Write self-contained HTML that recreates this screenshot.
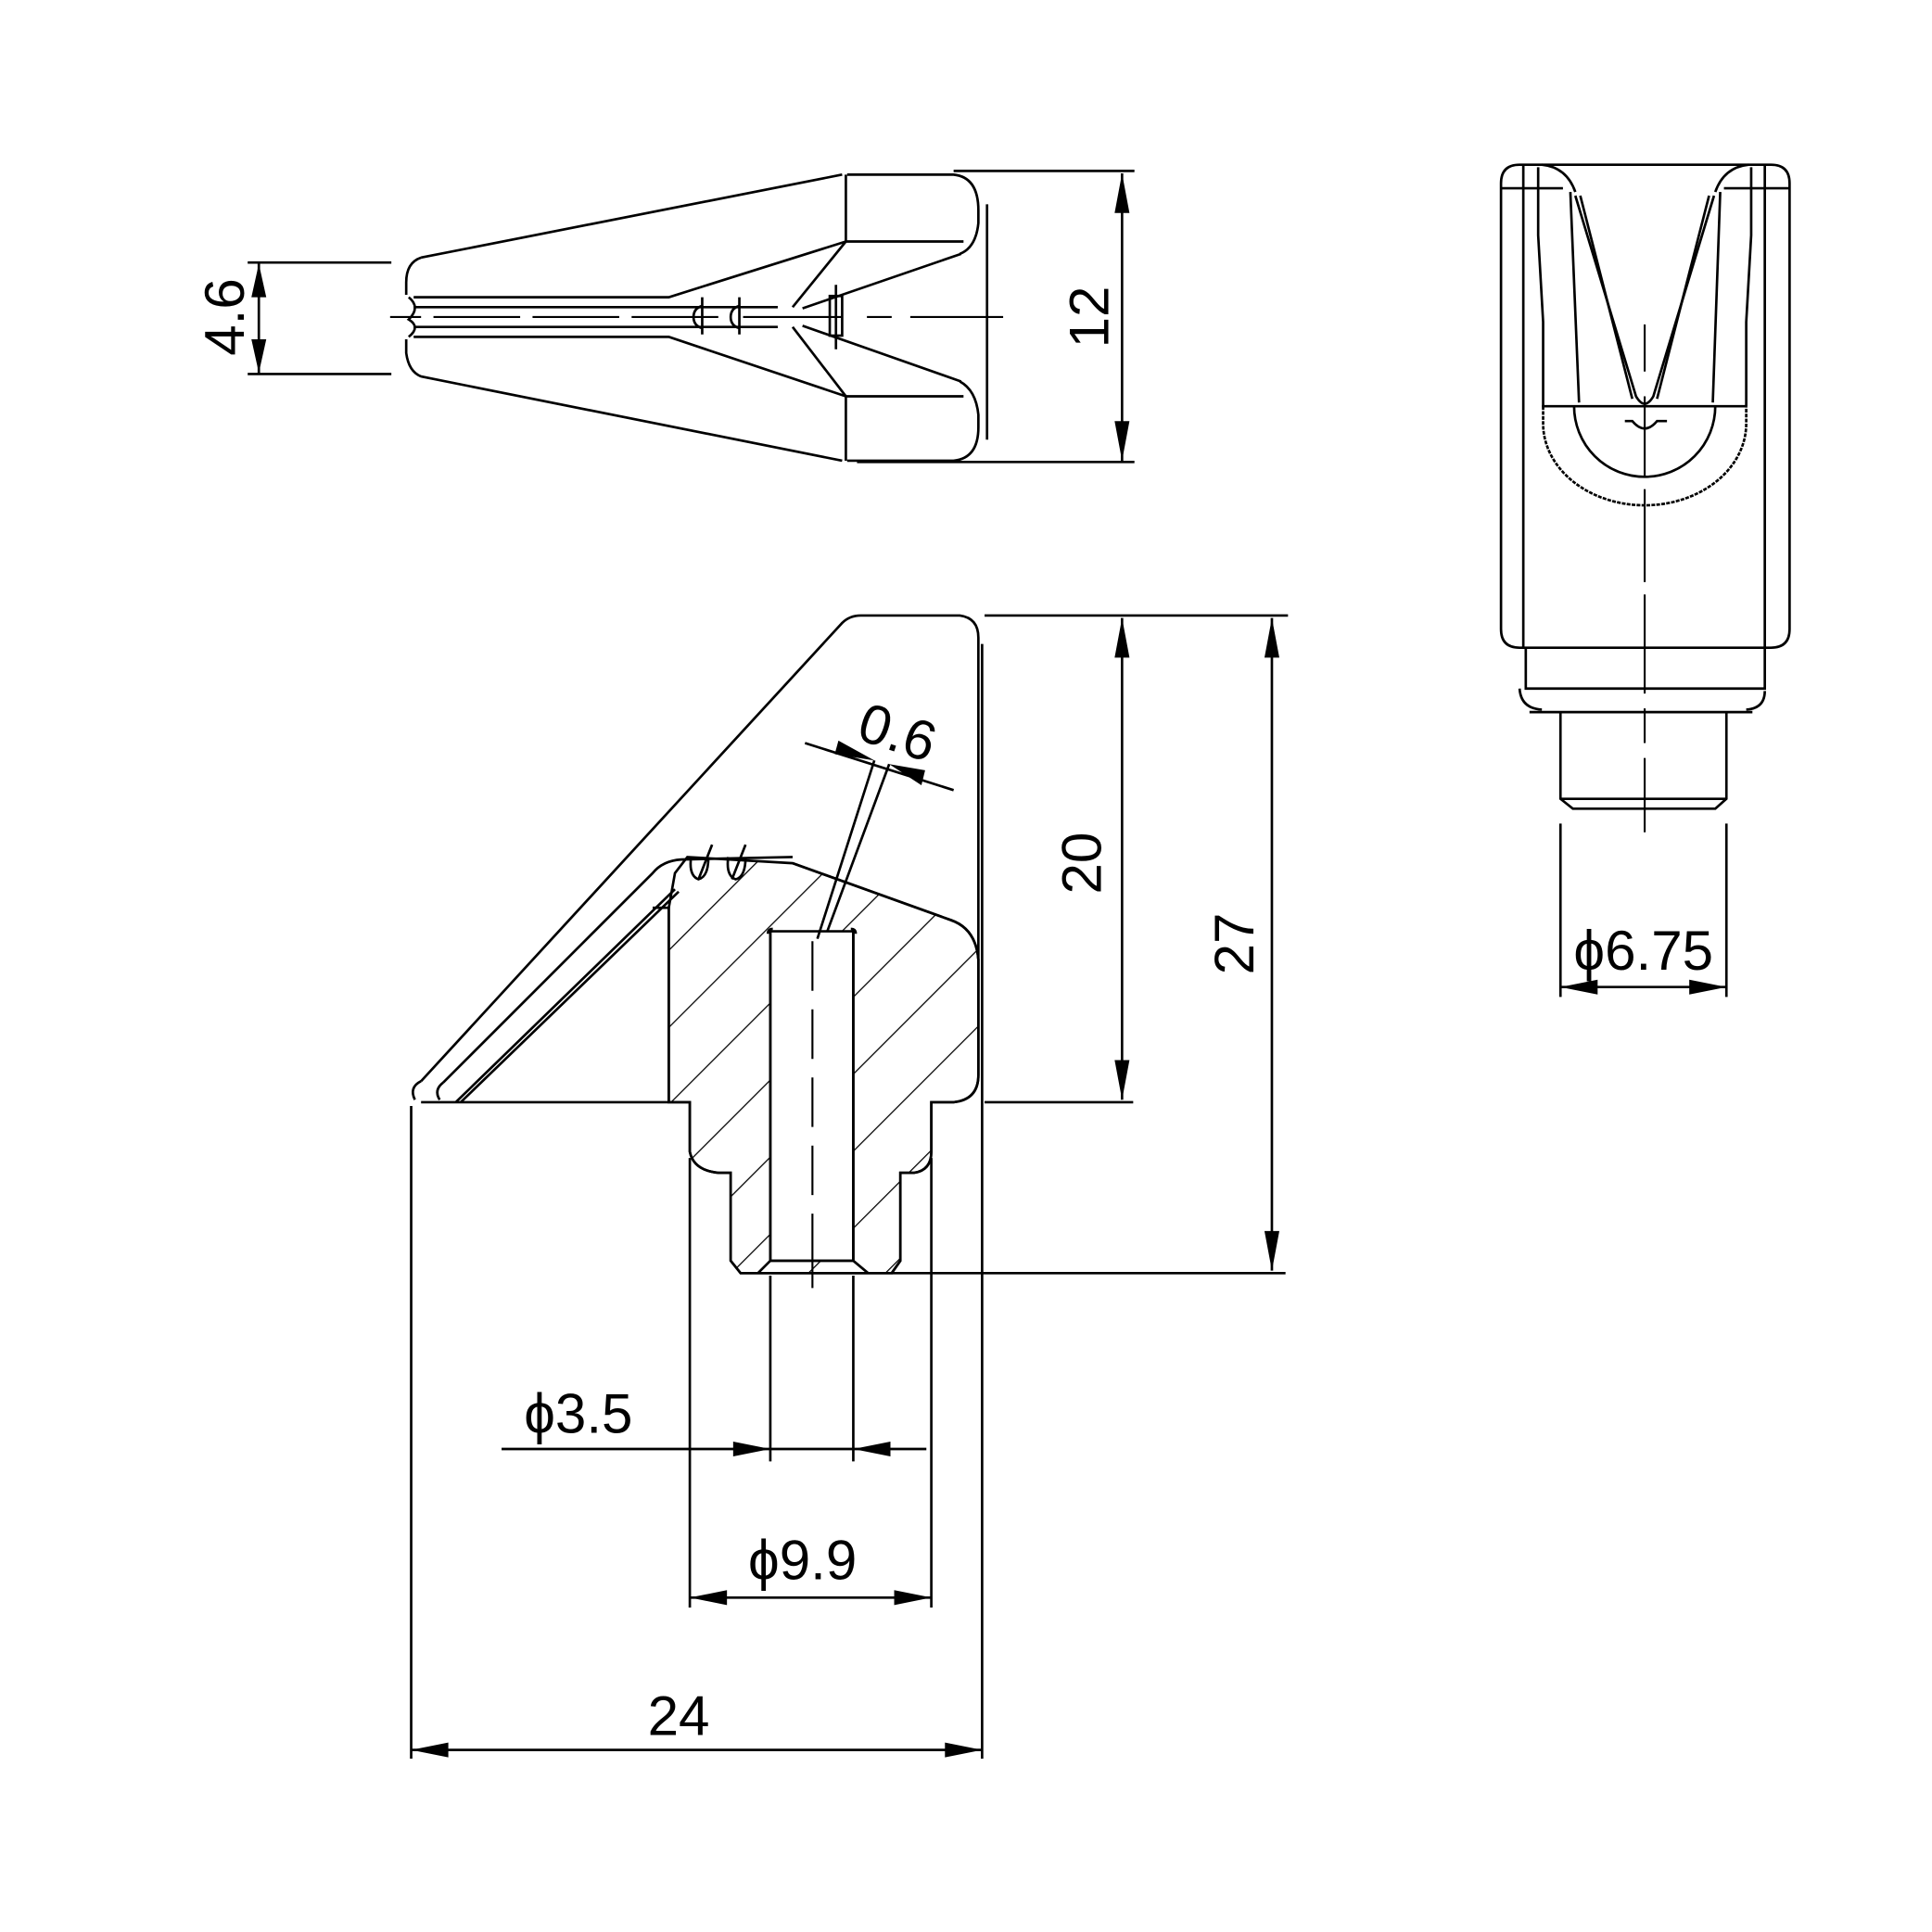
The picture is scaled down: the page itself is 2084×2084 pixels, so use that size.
<!DOCTYPE html>
<html><head><meta charset="utf-8"><style>html,body{margin:0;padding:0;background:#fff}svg{display:block}</style></head>
<body>
<svg width="2084" height="2084" viewBox="0 0 1560 1560" xmlns="http://www.w3.org/2000/svg">
<defs>
<pattern id="h" width="44" height="44" patternUnits="userSpaceOnUse" patternTransform="rotate(45)">
<line x1="0" y1="0" x2="0" y2="44" stroke="#000" stroke-width="1.9"/>
</pattern>
</defs>
<g fill="none" stroke="#000" stroke-width="2" stroke-linecap="butt">
<!-- TOP VIEW -->
<path d="M340,208 L680,141"/>
<path d="M340,304 L680,372"/>
<path d="M340,208 Q328,212 328,228 L328,238"/>
<path d="M328,274 L328,285 Q330,300 340,304"/>
<path d="M330,240 Q340,248 330,258 Q340,264 330,272" />
<path d="M683,141 L683,195 M683,320 L683,372"/>
<path d="M684,141 L770,141 Q790,143 790,170 L790,180 Q788,200 775,205"/>
<path d="M683,195 L778,195"/>
<path d="M683,320 L778,320"/>
<path d="M684,372 L770,372 Q790,370 790,345 L790,335 Q788,315 775,308"/>
<path d="M683,195 L540,240 L334,240"/>
<path d="M683,320 L540,272 L334,272"/>
<path d="M683,195 L640,248 M683,320 L640,264"/>
<path d="M648,249 L776,205 M648,263 L776,308"/>
<path d="M334,248 L628,248 M334,264 L628,264"/>
<path d="M797,165 L797,355"/>
<path d="M315,256 L340,256 M350,256 L420,256 M430,256 L500,256 M510,256 L580,256 M700,256 L720,256 M735,256 L810,256" stroke-width="1.6"/>
<path d="M600,256 L680,256" stroke-width="1.6"/>
<rect x="670" y="239" width="10" height="32"/>
<path d="M675,230 L675,282 M567,240 L567,270 M597,240 L597,270"/>
<path d="M567,247 q-7,2 -7,9 q0,7 7,9 M597,247 q-7,2 -7,9 q0,7 7,9"/>
<!-- dims top view -->
<path d="M770,138 L916,138 M692,373 L916,373 M906,140 L906,372"/>
<path d="M200,212 L316,212 M200,302 L316,302 M209,213 L209,301"/>
<!-- RIGHT VIEW -->
<path d="M1227,133 L1430,133 Q1445,133 1445,148 L1445,508 Q1445,523 1430,523 L1227,523 Q1212,523 1212,508 L1212,148 Q1212,133 1227,133 Z"/>
<path d="M1212,152 L1262,152 M1392,152 L1445,152"/>
<path d="M1230,133 L1230,523 M1425,133 L1425,523"/>
<path d="M1245,133 Q1265,135 1272,155 M1385,155 Q1392,135 1412,133"/>
<path d="M1242,135 L1242,190 L1246,260 L1246,328 M1414,135 L1414,190 L1410,260 L1410,328"/>
<path d="M1268,155 L1275,325 M1389,155 L1383,325"/>
<path d="M1272,158 L1321,320 Q1328,332 1335,320 L1384,158"/>
<path d="M1276,158 L1318,322 M1380,158 L1338,322"/>
<path d="M1245,328 L1410,328"/>
<path d="M1246,328 L1246,342 A82,66 0 0 0 1410,342 L1410,328" stroke-dasharray="3,1"/>
<path d="M1271,328 A57,57 0 0 0 1385,328"/>
<path d="M1312,340 L1318,340 Q1328,352 1338,340 L1346,340"/>
<path d="M1328,262 L1328,300 M1328,320 L1328,385 M1328,395 L1328,470 M1328,480 L1328,560 M1328,572 L1328,600 M1328,612 L1328,672" stroke-width="1.6"/>
<path d="M1232,523 L1232,556 L1425,556 L1425,523"/>
<path d="M1227,556 Q1228,572 1245,573 M1410,573 Q1425,572 1425,558"/>
<path d="M1235,575 L1415,575"/>
<path d="M1260,575 L1260,645 L1270,653 L1385,653 L1394,645 L1394,575"/>
<path d="M1260,645 L1394,645"/>
<path d="M1260,665 L1260,805 M1394,665 L1394,805 M1260,797 L1394,797"/>
<!-- MAIN SECTION -->
<path fill="url(#h)" fill-rule="evenodd" d="M540,733 L540,890 L557,890 L557,930 Q560,945 580,947 L590,947 L590,1018 L598,1028 L720,1028 L727,1018 L727,947 L738,947 Q752,945 752,930 L752,890 L770,890 Q790,888 790,868 L790,775 Q788,750 768,743 L640,697 L555,692 L545,705 L540,733 Z M622,752 L689,752 L689,1018 L622,1018 Z"/>
<path d="M527,733 L540,733 L540,890"/>
<path d="M340,890 L557,890 L557,930 Q560,945 580,947 L590,947 L590,1018 L598,1028 L720,1028 L727,1018 L727,947 L738,947 Q752,945 752,930 L752,890 L770,890 Q790,888 790,868"/>
<path d="M790,775 Q788,750 768,743 L640,697"/>
<path d="M622,752 L622,1018 L612,1028 M689,752 L689,1018 L701,1028 M622,1018 L689,1018"/>
<path d="M620,754 Q620,750 624,750 M691,754 Q691,750 687,750"/>
<path d="M340,873 L680,503 Q686,497 695,497 L775,497 Q790,499 790,515 L790,868" />
<path d="M340,873 Q330,878 335,888 M358,874 Q350,880 355,888"/>
<path d="M358,874 L527,705 Q535,695 550,694 M550,694 L640,692"/>
<path d="M368,890 L545,718 M372,890 L548,720"/>
<path d="M558,692 q-2,15 6,18 q8,-2 8,-18 M588,692 q-2,15 6,18 q8,-2 8,-18 M575,682 L564,710 M602,682 L591,710"/>
<path d="M793,520 L793,1420 M332,893 L332,1420 M332,1413 L793,1413"/>
<path d="M656,760 L656,800 M656,815 L656,855 M656,870 L656,910 M656,925 L656,965 M656,980 L656,1040" stroke-width="1.6"/>
<path d="M660,758 L706,614 M668,752 L718,617 M650,600 L770,638"/>
<path d="M557,935 L557,1298 M752,935 L752,1298 M622,1030 L622,1180 M689,1030 L689,1180"/>
<path d="M405,1170 L748,1170 M557,1290 L752,1290"/>
<path d="M795,497 L1040,497 M795,890 L915,890 M720,1028 L1038,1028 M906,499 L906,888 M1027,499 L1027,1026"/>
</g>
<g fill="#000" stroke="none">
<polygon points="906,140 900,172 912,172"/><polygon points="906,372 900,340 912,340"/>
<polygon points="209,213 203,240 215,240"/><polygon points="209,301 203,274 215,274"/>
<polygon points="1260,797 1290,791 1290,803"/><polygon points="1394,797 1364,791 1364,803"/>
<polygon points="332,1413 362,1407 362,1419"/><polygon points="793,1413 763,1407 763,1419"/>
<polygon points="622,1170 592,1164 592,1176"/><polygon points="689,1170 719,1164 719,1176"/>
<polygon points="557,1290 587,1284 587,1296"/><polygon points="752,1290 722,1284 722,1296"/>
<polygon points="906,499 900,531 912,531"/><polygon points="906,888 900,856 912,856"/>
<polygon points="1027,499 1021,531 1033,531"/><polygon points="1027,1026 1021,994 1033,994"/>
<polygon points="706,614 677,598 674,609"/><polygon points="718,617 747,622 744,634"/>
</g>
<g font-family="Liberation Sans, sans-serif" font-size="45" fill="#000" text-anchor="middle">
<text transform="translate(895,256) rotate(-90)">12</text>
<text transform="translate(197,256) rotate(-90)">4.6</text>
<text transform="translate(889,697) rotate(-90)">20</text>
<text transform="translate(1012,762) rotate(-90)">27</text>
<text x="548" y="1401">24</text>
<text x="467" y="1157">ϕ3.5</text>
<text x="648" y="1275">ϕ9.9</text>
<text x="1327" y="783">ϕ6.75</text>
<text transform="translate(720,606) rotate(18)">0.6</text>
</g>
</svg>
</body></html>
